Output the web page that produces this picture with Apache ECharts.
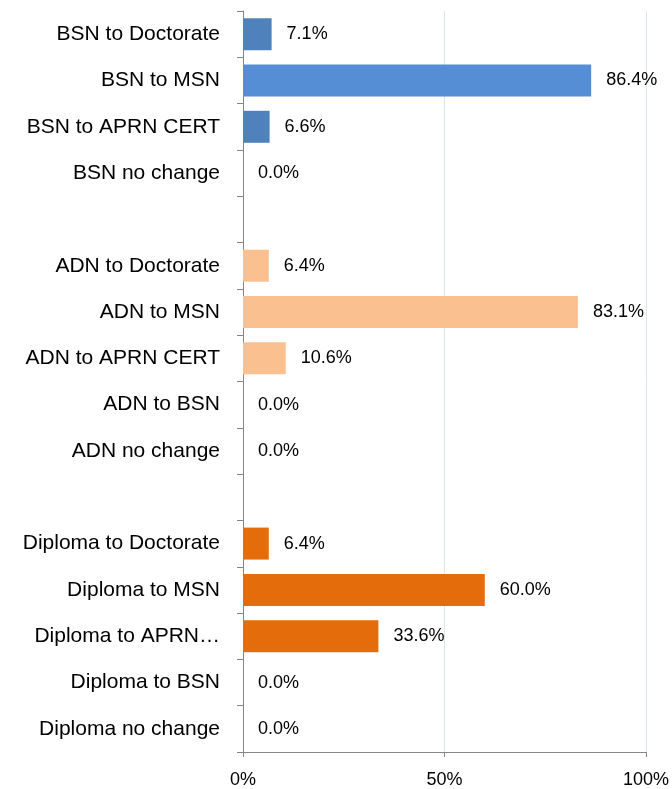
<!DOCTYPE html>
<html>
<head>
<meta charset="utf-8">
<script src="https://cdn.jsdelivr.net/npm/echarts@6/dist/echarts.min.js"></script>
<style>
  html, body { margin: 0; padding: 0; background: #fff; }
  #chart { width: 672px; height: 789px; }
</style>
</head>
<body>
<div id="chart"></div>
<script>
// rows top to bottom; empty strings are the gaps between groups
var categories = [
  'BSN to Doctorate', 'BSN to MSN', 'BSN to APRN CERT', 'BSN no change', '',
  'ADN to Doctorate', 'ADN to MSN', 'ADN to APRN CERT', 'ADN to BSN', 'ADN no change', '',
  'Diploma to Doctorate', 'Diploma to MSN', 'Diploma to APRN\u2026', 'Diploma to BSN', 'Diploma no change'
];
var values = [
  7.1, 86.4, 6.6, 0.0, null,
  6.4, 83.1, 10.6, 0.0, 0.0, null,
  6.4, 60.0, 33.6, 0.0, 0.0
];
var xTicks = [0, 50, 100];

var font = 'Liberation Sans';

function barColor(name) {
  if (name === 'BSN to MSN') return '#558ed5';
  if (name.indexOf('BSN') === 0) return '#4f81bd';
  if (name.indexOf('ADN') === 0) return '#fac090';
  return '#e46c0a';
}

var data = values.map(function(v, i) {
  if (v === null) return '-';
  return { value: v, itemStyle: { color: barColor(categories[i]) } };
});

var chart = echarts.init(document.getElementById('chart'), null, { renderer: 'canvas' });
chart.setOption({
  animation: false,
  grid: { left: 243, right: 25, top: 11, bottom: 36, containLabel: false },
  xAxis: {
    type: 'value',
    min: xTicks[0],
    max: xTicks[xTicks.length - 1],
    interval: 50,
    axisLine: { show: true, lineStyle: { color: '#868686', width: 1 } },
    axisTick: { show: true, length: 5, lineStyle: { color: '#868686' } },
    axisLabel: {
      color: '#000', fontFamily: font, fontSize: 18, margin: 19,
      formatter: function(v) { return v + '%'; }
    },
    splitLine: { show: true, lineStyle: { color: '#d7e6ef', width: 1 } }
  },
  yAxis: {
    type: 'category',
    inverse: true,
    data: categories,
    axisLine: { show: true, lineStyle: { color: '#868686', width: 1 } },
    axisTick: { show: true, length: 6, lineStyle: { color: '#868686' } },
    axisLabel: {
      color: '#000', fontFamily: font, fontSize: 21, margin: 23, interval: 0,
      padding: [3, 0, 0, 0]
    },
    splitLine: { show: false }
  },
  series: [{
    type: 'bar',
    barWidth: 32,
    data: data,
    label: {
      show: true,
      position: 'right',
      distance: 15,
      color: '#000',
      fontFamily: font,
      fontSize: 18,
      padding: [3, 0, 0, 0],
      formatter: function(p) { return p.value.toFixed(1) + '%'; }
    }
  }]
});
</script>
</body>
</html>
